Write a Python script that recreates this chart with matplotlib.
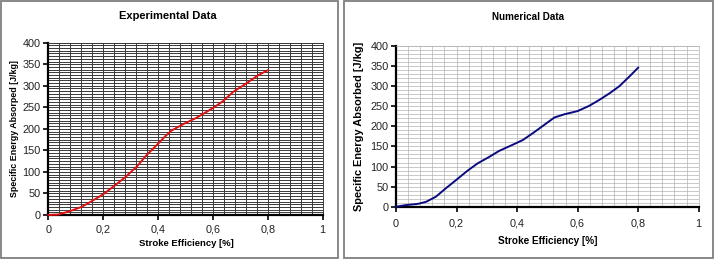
import matplotlib
matplotlib.use("Agg")
import matplotlib.pyplot as plt
from matplotlib.ticker import MultipleLocator, FuncFormatter
from matplotlib.patches import Rectangle

plt.rcParams['font.family'] = ['Liberation Sans', 'DejaVu Sans']

# Experimental data (red curve)
exp_x = [0.0, 0.036, 0.079, 0.122, 0.158, 0.2, 0.237, 0.279, 0.322, 0.358, 0.401,
         0.425, 0.449, 0.492, 0.541, 0.602, 0.638, 0.674, 0.723, 0.766, 0.8]
exp_y = [0, 1, 9, 19, 32, 48, 66, 87, 112, 139, 166,
         182, 196, 211, 226, 249, 265, 286, 306, 325, 336]

# Numerical data (navy curve)
num_x = [0.0, 0.033, 0.072, 0.099, 0.132, 0.165, 0.198, 0.237, 0.270, 0.308, 0.341,
         0.385, 0.419, 0.452, 0.485, 0.523, 0.556, 0.600, 0.638, 0.672, 0.705,
         0.738, 0.771, 0.8]
num_y = [0, 4, 7, 12, 25, 46, 66, 90, 108, 124, 139,
         154, 166, 183, 201, 222, 230, 238, 251, 266, 282,
         300, 324, 346]

W, H = 716, 260
fig = plt.figure(figsize=(W / 100, H / 100), dpi=100)


def px_rect(x0, y0, x1, y1):
    # pixel box (top-left origin) -> figure fraction
    return [x0 / W, (H - y1) / H, (x1 - x0) / W, (y1 - y0) / H]


def ftext(x, y, s, **kw):
    fig.text(x / W, 1 - y / H, s, ha='center', va='center', fontweight='bold', **kw)


# panel borders
for (x0, y0, x1, y1) in [(1, 1, 338, 258), (344, 1, 713, 258)]:
    fig.patches.append(Rectangle((x0 / W, (H - y1) / H), (x1 - x0) / W, (y1 - y0) / H,
                                 transform=fig.transFigure, fill=False,
                                 edgecolor='#7f7f7f', linewidth=1.3))

comma = FuncFormatter(lambda v, p: ('%g' % v).replace('.', ','))


def style_axes(ax, ystep_minor, gridcolor, gridlw, xpad):
    ax.set_xlim(0, 1)
    ax.set_ylim(0, 400)
    ax.xaxis.set_major_locator(MultipleLocator(0.2))
    ax.xaxis.set_minor_locator(MultipleLocator(0.04))
    ax.yaxis.set_major_locator(MultipleLocator(50))
    ax.yaxis.set_minor_locator(MultipleLocator(ystep_minor))
    ax.xaxis.set_major_formatter(comma)
    ax.grid(True, which='both', color=gridcolor, linewidth=gridlw)
    ax.set_axisbelow(True)
    for s in ['top', 'right']:
        ax.spines[s].set_color(gridcolor)
        ax.spines[s].set_linewidth(gridlw)
    for s in ['left', 'bottom']:
        ax.spines[s].set_color('black')
        ax.spines[s].set_linewidth(1.6)
    ax.tick_params(which='major', direction='out', length=3.5, width=1.2,
                   labelsize=7.8, colors='black', labelcolor='#222222', pad=2)
    ax.tick_params(which='minor', length=0)
    ax.tick_params(axis='x', pad=xpad)


ax1 = fig.add_axes(px_rect(48.3, 42.7, 322.7, 215))
style_axes(ax1, 6.25, '#3a3a3a', 0.7, 3.5)
ax1.plot(exp_x, exp_y, color='#e01010', linewidth=1.4, zorder=3, clip_on=False)
ftext(168, 15.7, 'Experimental Data', fontsize=8)
ftext(186, 244, 'Stroke Efficiency [%]', fontsize=6.8)
ftext(15, 129, 'Specific Energy Absorped [J/kg]', fontsize=6.4, rotation=90)

ax2 = fig.add_axes(px_rect(396, 46, 698.7, 206.7))
style_axes(ax2, 10, '#b4b4b4', 0.5, 5)
ax2.plot(num_x, num_y, color='#0a0a80', linewidth=1.4, zorder=3, clip_on=False)
ftext(528, 16.5, 'Numerical Data', fontsize=7.1)
ftext(548, 240.7, 'Stroke Efficiency [%]', fontsize=7.2)
ftext(359, 126, 'Specific Energy Absorbed [J/kg]', fontsize=7.9, rotation=90)

fig.savefig('out.png', dpi=100)
